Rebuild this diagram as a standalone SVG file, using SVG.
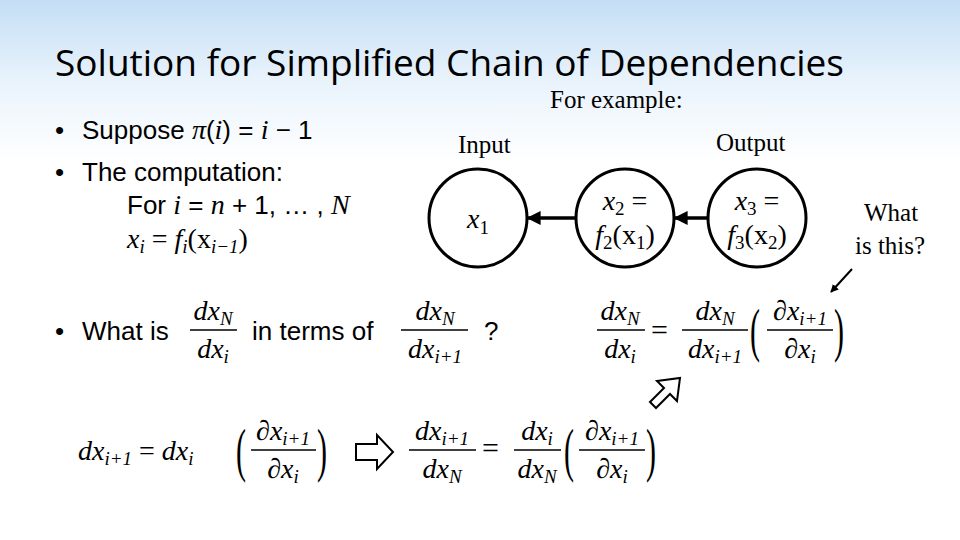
<svg xmlns="http://www.w3.org/2000/svg" width="960" height="540" viewBox="0 0 960 540">
<defs>
<linearGradient id="bg" x1="0" y1="0" x2="0" y2="1">
<stop offset="0" stop-color="#c4def5"/><stop offset="0.15" stop-color="#e9f3fc"/><stop offset="0.3" stop-color="#ffffff"/>
</linearGradient>
<marker id="ah" viewBox="0 0 10 10" refX="9" refY="5" markerWidth="4" markerHeight="4" orient="auto"><path d="M0,0L10,5L0,10z" fill="#000"/></marker>
<style>
.t{font-family:"Liberation Sans",Arial,sans-serif;font-size:26px;fill:#000}
.s{font-family:"Liberation Serif","Times New Roman",serif;font-size:25px;fill:#000}
.m{font-family:"Liberation Serif","Times New Roman",serif;font-style:italic;font-size:28px;fill:#000}
.sub{font-size:19px}
.r{font-style:normal}
.p{font-family:"Liberation Serif","Times New Roman",serif;font-size:30px;fill:#000}
.eq{font-family:"Liberation Serif","Times New Roman",serif;font-size:30px;fill:#000}
.n{fill:none;stroke:#000;stroke-width:3}
.ln{stroke:#000;stroke-width:1.5}
.e{stroke:#000;stroke-width:3.5}
</style>
</defs>
<rect width="960" height="540" fill="url(#bg)"/>
<text x="55" y="76" font-family="'Open Sans','Noto Sans',sans-serif" font-size="37" fill="#000">Solution for Simplified Chain of Dependencies</text>
<text x="550" y="108" class="s">For example:</text>
<text x="458" y="153" class="s">Input</text>
<text x="716" y="151" class="s">Output</text>
<text x="864" y="221" class="s">What</text>
<text x="855" y="254" class="s">is this?</text>

<text x="55" y="139" class="t">•</text><text x="82" y="139" class="t">Suppose <tspan class="m">π</tspan>(<tspan class="m">i</tspan>) = <tspan class="m">i</tspan> − 1</text>
<text x="55" y="181" class="t">•</text><text x="82" y="181" class="t">The computation:</text>
<text x="127" y="214" class="t">For <tspan class="m">i</tspan> = <tspan class="m">n</tspan> + 1, … , <tspan class="m">N</tspan></text>
<text x="127" y="248" class="m">x<tspan class="sub" dy="5">i</tspan><tspan dy="-5" class="r"> = </tspan>f<tspan class="sub" dy="5">i</tspan><tspan dy="-5" class="r">(x</tspan><tspan class="sub" dy="5">i−1</tspan><tspan dy="-5" class="r">)</tspan></text>

<g id="n1"><circle cx="478" cy="218" r="49" class="n"/><text x="478" y="228" class="m" text-anchor="middle">x<tspan class="sub r" dy="6">1</tspan></text></g>
<g id="n2"><circle cx="625" cy="218" r="49" class="n"/><text x="625" y="210" class="m" text-anchor="middle">x<tspan class="sub r" dy="5">2</tspan><tspan dy="-5" class="r"> =</tspan></text><text x="625" y="244" class="m" text-anchor="middle">f<tspan class="sub r" dy="5">2</tspan><tspan dy="-5" class="r">(x</tspan><tspan class="sub r" dy="5">1</tspan><tspan dy="-5" class="r">)</tspan></text></g>
<g id="n3"><circle cx="757" cy="218" r="49" class="n"/><text x="757" y="210" class="m" text-anchor="middle">x<tspan class="sub r" dy="5">3</tspan><tspan dy="-5" class="r"> =</tspan></text><text x="757" y="244" class="m" text-anchor="middle">f<tspan class="sub r" dy="5">3</tspan><tspan dy="-5" class="r">(x</tspan><tspan class="sub r" dy="5">2</tspan><tspan dy="-5" class="r">)</tspan></text></g>

<g id="edges">
<line x1="576" y1="218" x2="528" y2="218" class="e" marker-end="url(#ah)"/>
<line x1="708" y1="218" x2="675" y2="218" class="e" marker-end="url(#ah)"/>
<line x1="852" y1="269" x2="831" y2="292" stroke="#000" stroke-width="2" marker-end="url(#ah)"/>
</g>

<text x="55" y="340" class="t">•</text><text x="82" y="340" class="t">What is</text>
<text x="213" y="320" class="m" text-anchor="middle">dx<tspan class="sub" dy="5">N</tspan></text><line x1="190" y1="330" x2="237" y2="330" class="ln"/><text x="213" y="358" class="m" text-anchor="middle">dx<tspan class="sub" dy="5">i</tspan></text>
<text x="252" y="340" class="t">in terms of</text>
<text x="435" y="320" class="m" text-anchor="middle">dx<tspan class="sub" dy="5">N</tspan></text><line x1="401" y1="330" x2="468" y2="330" class="ln"/><text x="435" y="358" class="m" text-anchor="middle">dx<tspan class="sub" dy="5">i+1</tspan></text>
<text x="484" y="340" class="t">?</text>

<text x="620" y="320" class="m" text-anchor="middle">dx<tspan class="sub" dy="5">N</tspan></text><line x1="597" y1="330" x2="645" y2="330" class="ln"/><text x="620" y="358" class="m" text-anchor="middle">dx<tspan class="sub" dy="5">i</tspan></text>
<text x="651" y="340" class="eq">=</text>
<text x="715" y="320" class="m" text-anchor="middle">dx<tspan class="sub" dy="5">N</tspan></text><line x1="682" y1="330" x2="748" y2="330" class="ln"/><text x="715" y="358" class="m" text-anchor="middle">dx<tspan class="sub" dy="5">i+1</tspan></text>
<text class="p" transform="translate(750,350) scale(1,2)">(</text>
<text x="800" y="320" class="m" text-anchor="middle">∂x<tspan class="sub" dy="5">i+1</tspan></text><line x1="767" y1="330" x2="833" y2="330" class="ln"/><text x="800" y="358" class="m" text-anchor="middle">∂x<tspan class="sub" dy="5">i</tspan></text>
<text class="p" transform="translate(834,350) scale(1,2)">)</text>

<text x="78" y="460" class="m">dx<tspan class="sub" dy="5">i+1</tspan><tspan dy="-5" class="r"> = </tspan>dx<tspan class="sub" dy="5">i</tspan></text>
<text class="p" transform="translate(236,470) scale(1,2)">(</text>
<text x="283" y="440" class="m" text-anchor="middle">∂x<tspan class="sub" dy="5">i+1</tspan></text><line x1="251" y1="450" x2="316" y2="450" class="ln"/><text x="283" y="478" class="m" text-anchor="middle">∂x<tspan class="sub" dy="5">i</tspan></text>
<text class="p" transform="translate(317,470) scale(1,2)">)</text>

<path d="M356,444 H377 V435 L393,452 L377,469 V460 H356 Z" fill="#fff" stroke="#000" stroke-width="2"/>
<path d="M650,402 L664,388 L657,381 L680,378 L677,401 L670,394 L656,408 Z" fill="#fff" stroke="#000" stroke-width="2"/>

<text x="442" y="440" class="m" text-anchor="middle">dx<tspan class="sub" dy="5">i+1</tspan></text><line x1="409" y1="450" x2="476" y2="450" class="ln"/><text x="442" y="478" class="m" text-anchor="middle">dx<tspan class="sub" dy="5">N</tspan></text>
<text x="482" y="458" class="eq">=</text>
<text x="537" y="440" class="m" text-anchor="middle">dx<tspan class="sub" dy="5">i</tspan></text><line x1="514" y1="450" x2="561" y2="450" class="ln"/><text x="537" y="478" class="m" text-anchor="middle">dx<tspan class="sub" dy="5">N</tspan></text>
<text class="p" transform="translate(564,470) scale(1,2)">(</text>
<text x="612" y="440" class="m" text-anchor="middle">∂x<tspan class="sub" dy="5">i+1</tspan></text><line x1="579" y1="450" x2="645" y2="450" class="ln"/><text x="612" y="478" class="m" text-anchor="middle">∂x<tspan class="sub" dy="5">i</tspan></text>
<text class="p" transform="translate(646,470) scale(1,2)">)</text>
</svg>
